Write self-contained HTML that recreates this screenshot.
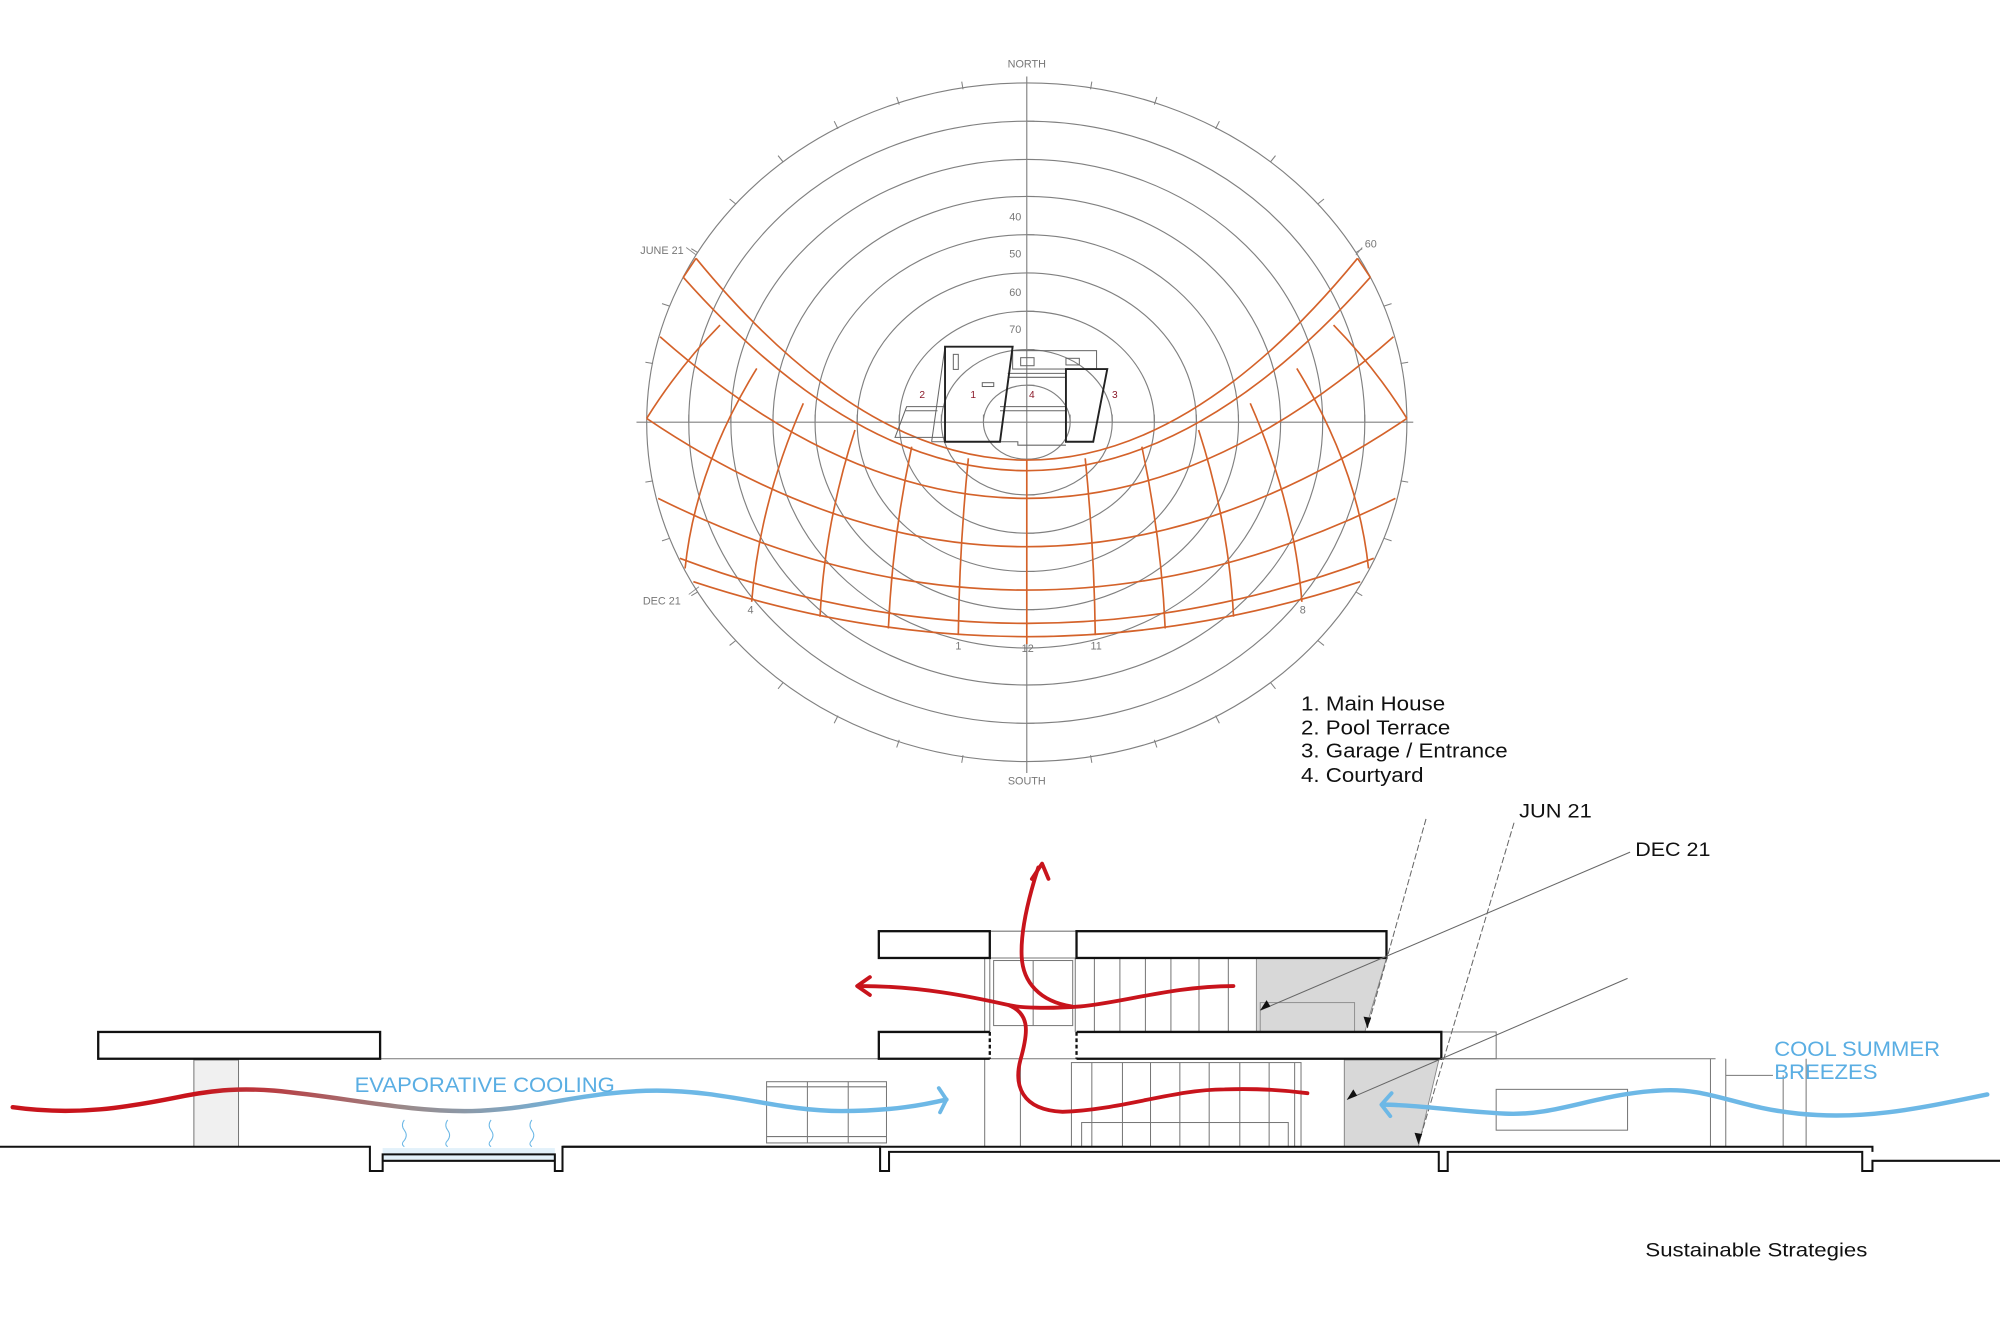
<!DOCTYPE html>
<html><head><meta charset="utf-8"><style>
html,body{margin:0;padding:0;background:#fff;}
svg{display:block;}
text{font-family:"Liberation Sans",sans-serif;}
</style></head><body>
<svg width="2000" height="1333" viewBox="0 0 1568 1045" preserveAspectRatio="none" xmlns="http://www.w3.org/2000/svg">
<defs>
<linearGradient id="g1" gradientUnits="userSpaceOnUse" x1="10" y1="0" x2="742" y2="0">
<stop offset="0" stop-color="#c8141c"/><stop offset="0.2" stop-color="#c8141c"/>
<stop offset="0.42" stop-color="#9a8a8a"/><stop offset="0.62" stop-color="#6db8e6"/><stop offset="1" stop-color="#6db8e6"/>
</linearGradient>
</defs>
<rect width="1568" height="1045" fill="#fff"/>
<g fill="none" stroke="#808080" stroke-width="0.9">
<ellipse cx="805" cy="331" rx="298" ry="266"/>
<ellipse cx="805" cy="331" rx="265" ry="236"/>
<ellipse cx="805" cy="331" rx="232" ry="206"/>
<ellipse cx="805" cy="331" rx="199" ry="177"/>
<ellipse cx="805" cy="331" rx="166" ry="147"/>
<ellipse cx="805" cy="331" rx="133" ry="117"/>
<ellipse cx="805" cy="331" rx="100" ry="87"/>
<ellipse cx="805" cy="331" rx="67" ry="57"/>
<ellipse cx="805" cy="331" rx="34" ry="29"/>
<line x1="805" y1="60" x2="805" y2="606"/>
<line x1="499" y1="331" x2="1108" y2="331"/>
</g>
<g stroke="#808080" stroke-width="0.8">
<line x1="805" y1="95" x2="811" y2="95"/><line x1="805" y1="125" x2="811" y2="125"/><line x1="805" y1="154" x2="811" y2="154"/><line x1="805" y1="184" x2="811" y2="184"/><line x1="805" y1="214" x2="811" y2="214"/><line x1="805" y1="244" x2="811" y2="244"/><line x1="805" y1="274" x2="811" y2="274"/><line x1="805" y1="302" x2="811" y2="302"/>
<line x1="805" y1="567" x2="811" y2="567"/><line x1="805" y1="537" x2="811" y2="537"/><line x1="805" y1="508" x2="811" y2="508"/><line x1="805" y1="478" x2="811" y2="478"/><line x1="805" y1="448" x2="811" y2="448"/><line x1="805" y1="418" x2="811" y2="418"/><line x1="805" y1="388" x2="811" y2="388"/><line x1="805" y1="360" x2="811" y2="360"/>
<line x1="540" y1="331" x2="540" y2="325"/><line x1="573" y1="331" x2="573" y2="325"/><line x1="606" y1="331" x2="606" y2="325"/><line x1="639" y1="331" x2="639" y2="325"/><line x1="672" y1="331" x2="672" y2="325"/><line x1="705" y1="331" x2="705" y2="325"/><line x1="738" y1="331" x2="738" y2="325"/><line x1="771" y1="331" x2="771" y2="325"/>
<line x1="1070" y1="331" x2="1070" y2="325"/><line x1="1037" y1="331" x2="1037" y2="325"/><line x1="1004" y1="331" x2="1004" y2="325"/><line x1="971" y1="331" x2="971" y2="325"/><line x1="938" y1="331" x2="938" y2="325"/><line x1="905" y1="331" x2="905" y2="325"/><line x1="872" y1="331" x2="872" y2="325"/><line x1="839" y1="331" x2="839" y2="325"/>
<line x1="1098" y1="377" x2="1104" y2="378"/><line x1="1085" y1="422" x2="1091" y2="424"/><line x1="1063" y1="464" x2="1068" y2="467"/><line x1="1033" y1="502" x2="1038" y2="506"/><line x1="996" y1="535" x2="1000" y2="540"/><line x1="953" y1="561" x2="956" y2="567"/><line x1="905" y1="580" x2="907" y2="586"/><line x1="855" y1="592" x2="856" y2="598"/>
<line x1="755" y1="592" x2="754" y2="598"/><line x1="705" y1="580" x2="703" y2="586"/><line x1="657" y1="561" x2="654" y2="567"/><line x1="614" y1="535" x2="610" y2="540"/><line x1="577" y1="502" x2="572" y2="506"/><line x1="547" y1="464" x2="542" y2="467"/><line x1="525" y1="422" x2="519" y2="424"/><line x1="512" y1="377" x2="506" y2="378"/>
<line x1="512" y1="285" x2="506" y2="284"/><line x1="525" y1="240" x2="519" y2="238"/><line x1="547" y1="198" x2="542" y2="195"/><line x1="577" y1="160" x2="572" y2="156"/><line x1="614" y1="127" x2="610" y2="122"/><line x1="657" y1="101" x2="654" y2="95"/><line x1="705" y1="82" x2="703" y2="76"/><line x1="755" y1="70" x2="754" y2="64"/>
<line x1="855" y1="70" x2="856" y2="64"/><line x1="905" y1="82" x2="907" y2="76"/><line x1="953" y1="101" x2="956" y2="95"/><line x1="996" y1="127" x2="1000" y2="122"/><line x1="1033" y1="160" x2="1038" y2="156"/><line x1="1063" y1="198" x2="1068" y2="195"/><line x1="1085" y1="240" x2="1091" y2="238"/><line x1="1098" y1="285" x2="1104" y2="284"/>
</g>
<g fill="none" stroke="#d4622a" stroke-width="1.3">
<path d="M545.7,202.5 Q675.4,360.7 805,360.7 Q934.6,360.7 1064.3,202.5"/>
<path d="M535.7,217.4 Q670.4,369 805,369 Q939.6,369 1074.3,217.4"/>
<path d="M517.5,264 Q661.3,390.7 805,390.7 Q948.7,390.7 1092.5,264"/>
<path d="M507,328 Q656,428.6 805,428.6 Q954,428.6 1103,328"/>
<path d="M516,390.7 Q660.5,462.6 805,462.6 Q949.5,462.6 1094,390.7"/>
<path d="M533,437.7 Q669,488.7 805,488.7 Q941,488.7 1077,437.7"/>
<path d="M543.6,456 Q674.3,499.1 805,499.1 Q935.7,499.1 1066.4,456"/>
<path d="M805,360.7 L805,505"/>
<path d="M759.2,359.3 Q752.2,428.6 751.3,497.9"/>
<path d="M714.8,350.2 Q699.6,421.5 696.5,492.7"/>
<path d="M670.3,337.1 Q646.6,410.3 642.9,483.5"/>
<path d="M629.8,316.2 Q595.5,394 589.3,471.8"/>
<path d="M593.3,288.8 Q545.2,367.2 537.1,445.6"/>
<path d="M564.5,254.8 Q532,288 507,328"/>
<path d="M545.7,202.5 L535.7,217.4"/>
<path d="M850.8,359.3 Q857.8,428.6 858.7,497.9"/>
<path d="M895.2,350.2 Q910.4,421.5 913.5,492.7"/>
<path d="M939.7,337.1 Q963.4,410.3 967.1,483.5"/>
<path d="M980.2,316.2 Q1014.5,394 1020.7,471.8"/>
<path d="M1016.7,288.8 Q1064.8,367.2 1072.9,445.6"/>
<path d="M1045.5,254.8 Q1078,288 1103,328"/>
<path d="M1064.3,202.5 L1074.3,217.4"/>
</g>
<g fill="none" stroke="#666" stroke-width="0.8">
<polygon points="701.7,342.9 710.8,318.8 740.9,318.8 740.9,342.9"/>
<line x1="710" y1="322" x2="735" y2="322"/>
<line x1="740.9" y1="271.8" x2="730.4" y2="346.3"/>
<line x1="730.4" y1="346.3" x2="784" y2="346.3"/>
<rect x="793.9" y="274.9" width="65.8" height="14.4"/>
<line x1="790" y1="292.7" x2="835.7" y2="292.7"/>
<line x1="790" y1="295.8" x2="835.7" y2="295.8"/>
<line x1="784" y1="318.8" x2="835.7" y2="318.8"/>
<line x1="784" y1="322" x2="835.7" y2="322"/>
<polyline points="784,346.3 798,346.3 798,349 835.7,349"/>
<rect x="747.4" y="277.8" width="3.9" height="11.8"/>
<rect x="770.1" y="300" width="9" height="3"/>
<rect x="800.2" y="280.4" width="10.5" height="6.3"/>
<rect x="835.7" y="280.9" width="10.5" height="5.2"/>
</g>
<g fill="none" stroke="#222" stroke-width="1.5">
<polygon points="740.9,271.8 793.9,271.8 784,346.3 740.9,346.3"/>
<polygon points="835.7,289.3 868.1,289.3 857.1,346.3 835.7,346.3"/>
</g>
<g fill="#8b1a2a" font-size="8" text-anchor="middle">
<text x="723" y="312">2</text><text x="763" y="312">1</text><text x="809" y="312">4</text><text x="874" y="312">3</text>
</g>
<g fill="#777" font-size="8.5">
<text x="805" y="53" text-anchor="middle">NORTH</text>
<text x="805" y="615" text-anchor="middle">SOUTH</text>
<text x="796" y="173" text-anchor="middle">40</text>
<text x="796" y="202" text-anchor="middle">50</text>
<text x="796" y="232" text-anchor="middle">60</text>
<text x="796" y="261" text-anchor="middle">70</text>
<text x="502" y="199">JUNE 21</text>
<text x="1070" y="194">60</text>
<text x="504" y="474">DEC  21</text>
<text x="586" y="481">4</text>
<text x="1019" y="481">8</text>
<text x="749" y="509">1</text>
<text x="801" y="511">12</text>
<text x="855" y="509">11</text>
</g>
<g stroke="#888" stroke-width="0.7"><line x1="538" y1="194" x2="546" y2="200"/><line x1="1068" y1="194" x2="1063" y2="200"/><line x1="540" y1="466" x2="548" y2="460"/></g>
<g fill="#111" font-size="15.8">
<text x="1020" y="557" textLength="113" lengthAdjust="spacingAndGlyphs">1. Main House</text>
<text x="1020" y="576" textLength="117" lengthAdjust="spacingAndGlyphs">2. Pool Terrace</text>
<text x="1020" y="594" textLength="162" lengthAdjust="spacingAndGlyphs">3. Garage / Entrance</text>
<text x="1020" y="613" textLength="96" lengthAdjust="spacingAndGlyphs">4. Courtyard</text>
</g>
<g fill="none" stroke="#777" stroke-width="0.8">
<line x1="298" y1="830" x2="690" y2="830"/>
<line x1="1130" y1="830" x2="1345" y2="830"/>
<rect x="152" y="831" width="35" height="68" fill="#f0f0f0"/>
<rect x="601" y="848" width="94" height="48"/>
<line x1="633" y1="848" x2="633" y2="896"/><line x1="665" y1="848" x2="665" y2="896"/>
<line x1="601" y1="852" x2="695" y2="852"/><line x1="601" y1="891" x2="695" y2="891"/>
<line x1="772" y1="751" x2="772" y2="899"/><line x1="776" y1="751" x2="776" y2="809"/>
<line x1="800" y1="830" x2="800" y2="899"/>
<line x1="776" y1="730" x2="844" y2="730"/><line x1="776" y1="751" x2="844" y2="751"/>
<rect x="779" y="753" width="62" height="51"/><line x1="810" y1="753" x2="810" y2="804"/>
<line x1="843" y1="751" x2="843" y2="809"/><line x1="858" y1="751" x2="858" y2="809"/>
<line x1="878" y1="751" x2="878" y2="809"/><line x1="898" y1="751" x2="898" y2="809"/>
<line x1="918" y1="751" x2="918" y2="809"/><line x1="940" y1="751" x2="940" y2="809"/>
<line x1="963" y1="751" x2="963" y2="809"/>
<line x1="776" y1="830" x2="844" y2="830"/>
<rect x="1130" y="809" width="43" height="21"/>
<rect x="840" y="833" width="180" height="66"/>
<line x1="856" y1="833" x2="856" y2="899"/><line x1="880" y1="833" x2="880" y2="899"/><line x1="902" y1="833" x2="902" y2="899"/>
<line x1="925" y1="833" x2="925" y2="899"/><line x1="948" y1="833" x2="948" y2="899"/><line x1="972" y1="833" x2="972" y2="899"/>
<line x1="995" y1="833" x2="995" y2="899"/><line x1="1015" y1="833" x2="1015" y2="899"/>
<rect x="848" y="880" width="162" height="19"/>
<line x1="1054" y1="830" x2="1054" y2="899"/>
<rect x="1173" y="854" width="103" height="32"/>
<line x1="1341" y1="830" x2="1341" y2="899"/><line x1="1353" y1="830" x2="1353" y2="899"/>
<line x1="1416" y1="830" x2="1416" y2="899"/><line x1="1353" y1="843" x2="1390" y2="843"/>
<line x1="1398" y1="843" x2="1398" y2="899"/>
</g>
<polygon points="985,751 1087,751 1070,809 985,809" fill="#d8d8d8" stroke="#888" stroke-width="0.7"/>
<rect x="988" y="786" width="74" height="23" fill="none" stroke="#888" stroke-width="0.7"/>
<polygon points="1054,831 1128,831 1112,899 1054,899" fill="#d8d8d8" stroke="#888" stroke-width="0.7"/>
<g fill="#fff" stroke="#111" stroke-width="1.8">
<rect x="77" y="809" width="221" height="21"/>
<rect x="689" y="730" width="87" height="21"/>
<rect x="844" y="730" width="243" height="21"/>
<path d="M776,809 H689 V830 H776"/>
<path d="M844,809 H1130 V830 H844"/>
</g>
<g stroke="#111" stroke-width="1.8" stroke-dasharray="3,2"><line x1="776" y1="809" x2="776" y2="830"/><line x1="844" y1="809" x2="844" y2="830"/></g>
<rect x="300" y="900" width="135" height="9" fill="#e3f1fa"/>
<g fill="none" stroke="#111" stroke-width="1.6">
<path d="M0,899 H290 V918 H300 V905 H435 V918 H441 V899 H690 V918 H697 V903 H1128 V918 H1135 V903 H1460 V918 H1468 V910 H1568"/>
<path d="M441,899 H1468 V903"/>
<line x1="300" y1="910" x2="435" y2="910"/>
</g>
<g fill="none" stroke="#6db8e6" stroke-width="0.8">
<path d="M317,878 q-3,4 0,8 q3,4 0,8 q-3,3 0,5"/>
<path d="M351,878 q-3,4 0,8 q3,4 0,8 q-3,3 0,5"/>
<path d="M385,878 q-3,4 0,8 q3,4 0,8 q-3,3 0,5"/>
<path d="M417,878 q-3,4 0,8 q3,4 0,8 q-3,3 0,5"/>
</g>
<g stroke="#666" stroke-width="0.8" fill="none">
<line x1="1118" y1="642" x2="1072" y2="806" stroke-dasharray="5,2"/>
<line x1="1187" y1="645" x2="1112" y2="897" stroke-dasharray="5,2"/>
<line x1="1278" y1="668" x2="988" y2="792"/>
<line x1="1276" y1="767" x2="1056" y2="862"/>
</g>
<g fill="#111">
<polygon points="1072,806 1069,797 1075,798"/>
<polygon points="1112,897 1109,888 1115,889"/>
<polygon points="988,792 993,784 996,789"/>
<polygon points="1056,862 1061,854 1064,859"/>
</g>
<g fill="#111" font-size="15.5">
<text x="1191" y="641" textLength="57" lengthAdjust="spacingAndGlyphs">JUN 21</text>
<text x="1282" y="671" textLength="59" lengthAdjust="spacingAndGlyphs">DEC 21</text>
<text x="1290" y="985" font-size="15" textLength="174" lengthAdjust="spacingAndGlyphs">Sustainable Strategies</text>
</g>
<g fill="none" stroke-linecap="round" stroke-linejoin="round">
<path d="M10,868 C60,875 100,868 140,860 C170,854 190,853 215,855 C270,860 320,872 370,871 C420,870 460,855 515,855 C570,855 610,871 660,871 C700,871 725,866 742,862" stroke="url(#g1)" stroke-width="3.5"/>
<polyline points="736,853 742,862 737,872" stroke="#6db8e6" stroke-width="3"/>
<path d="M1558,858 C1500,870 1460,878 1410,873 C1360,868 1340,852 1300,855 C1250,858 1220,875 1180,873 C1140,871 1110,866 1085,866" stroke="#6db8e6" stroke-width="3.5"/>
<polyline points="1091,857 1083,866 1090,875" stroke="#6db8e6" stroke-width="3"/>
<g stroke="#c8141c" stroke-width="3">
<path d="M814,680 C806,705 800,730 801,750 C802,770 815,785 840,789"/>
<polyline points="809,689 817,677 822,689"/>
<path d="M967,773 C920,773 880,786 847,789 C820,791 800,790 791,788 C760,781 720,773 675,773"/>
<polyline points="682,766 672,773 682,780"/>
<path d="M791,788 C808,795 806,810 800,831 C795,850 800,870 833,871.6 C880,870 920,854 960,854 C990,853 1010,855 1025,857"/>
</g>
</g>
<g fill="#5aaee3" font-size="16.5">
<text x="278" y="856" textLength="204" lengthAdjust="spacingAndGlyphs">EVAPORATIVE COOLING</text>
<text x="1391" y="828" textLength="130" lengthAdjust="spacingAndGlyphs">COOL SUMMER</text>
<text x="1391" y="846" textLength="81" lengthAdjust="spacingAndGlyphs">BREEZES</text>
</g>
</svg>
</body></html>
